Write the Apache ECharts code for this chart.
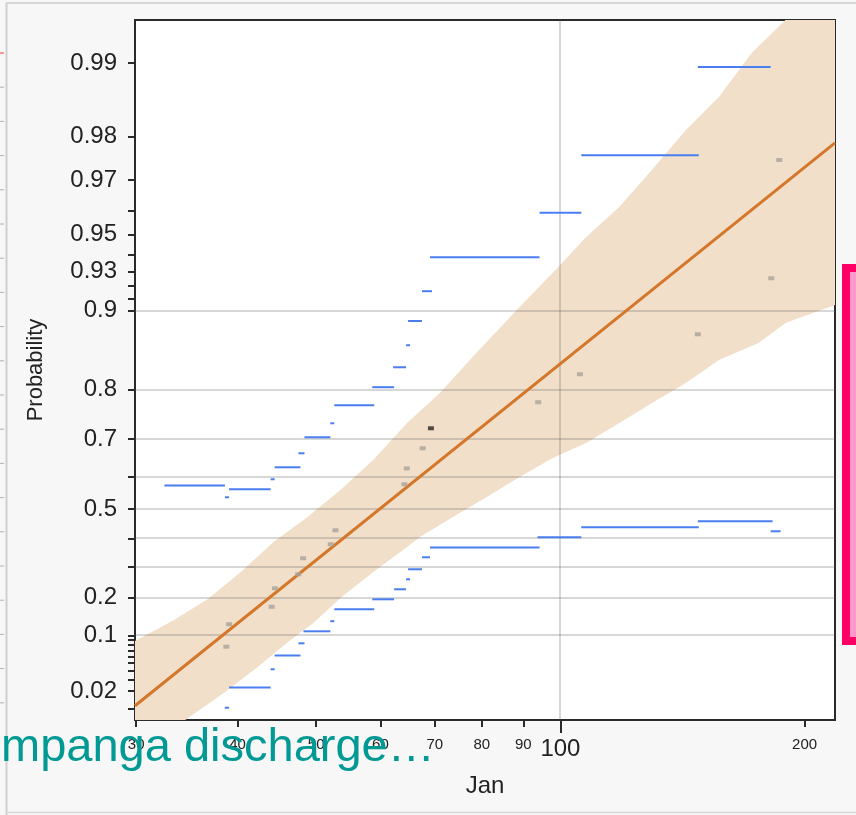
<!DOCTYPE html>
<html><head><meta charset="utf-8">
<script src="https://cdn.jsdelivr.net/npm/echarts@6/dist/echarts.min.js"></script>
<style>html,body{margin:0;padding:0;background:#f7f7f7}#c{width:856px;height:815px}</style>
</head><body><div id="c"></div>
<script>
// ---- axes (x: log scale, y: Gumbel probability scale) ----
const xTickValues = [30, 40, 50, 60, 70, 80, 90, 200];
const xBigTickValues = [100];
const xRange = [29.9, 218];
const yLabelValues = [0.02, 0.1, 0.2, 0.5, 0.7, 0.8, 0.9, 0.93, 0.95, 0.97, 0.98, 0.99];
const yMinorValues = [0.01, 0.03, 0.04, 0.05, 0.06, 0.07, 0.08, 0.09, 0.3, 0.4, 0.6, 0.91, 0.92, 0.94, 0.96];
const yGridValues = [0.1, 0.2, 0.3, 0.4, 0.5, 0.6, 0.7, 0.8, 0.9];
const xGridValues = [100];
const yRange = [0.00585, 0.99335];

// ---- observations ----
const obsX = [38.75, 39.05, 44.06, 44.48, 47.51, 48.18, 52.11, 52.81, 64.23, 64.66, 67.64, 69.25, 93.89, 105.7, 147.7, 181.9, 186.1];
const obsP = [0.0771, 0.126, 0.173, 0.2295, 0.2756, 0.3306, 0.3794, 0.428, 0.578, 0.624, 0.6774, 0.7246, 0.7776, 0.8246, 0.8764, 0.9254, 0.9751];
const obsSelected = [0, 0, 0, 0, 0, 0, 0, 0, 0, 0, 0, 1, 0, 0, 0, 0, 0];

// ---- fitted line ----
const fitX = [29.9, 218];
const fitP = [0.0112, 0.9788];

// ---- confidence band ----
const bandUpperX = [29.9, 33.40, 36.77, 40.37, 44.31, 48.78, 53.56, 58.79, 64.72, 71.04, 77.33, 89.07, 97.81, 107.6, 118.2, 129.7, 142.8, 156.8, 172.1, 189.4, 218];
const bandUpperP = [0.0882, 0.1369, 0.1961, 0.2834, 0.3874, 0.4733, 0.5606, 0.6471, 0.7362, 0.7942, 0.8450, 0.9032, 0.9289, 0.9490, 0.9614, 0.9727, 0.9812, 0.98624, 0.99092, 0.99335, 0.9962];
const bandLowerX = [29.9, 34.75, 38.47, 42.35, 46.49, 49.61, 53.56, 58.79, 64.72, 67.13, 73.70, 81.13, 89.07, 97.81, 107.6, 118.2, 129.7, 142.8, 156.8, 175.5, 189.4, 218];
const bandLowerP = [0.0007, 0.00644, 0.01872, 0.04469, 0.0903, 0.1292, 0.1991, 0.2834, 0.3699, 0.4048, 0.4733, 0.5387, 0.5996, 0.6524, 0.6905, 0.7362, 0.7763, 0.8110, 0.8450, 0.8665, 0.8882, 0.9049];

// ---- step intervals (upper and lower) ----
const upperSegStart = [32.5, 38.6, 39.05, 43.94, 44.44, 47.55, 48.37, 52.05, 52.64, 58.63, 62.2, 64.54, 64.9, 67.52, 69.07, 94.25, 106.1, 147.7];
const upperSegEnd   = [38.6, 39.05, 43.94, 44.44, 47.82, 48.37, 52.05, 52.64, 58.96, 62.38, 64.54, 65.27, 67.52, 69.46, 94.25, 106.1, 148.1, 181.6];
const upperSegP     = [0.5744, 0.5378, 0.5628, 0.5929, 0.6272, 0.6647, 0.7041, 0.7355, 0.7719, 0.8041, 0.8349, 0.8638, 0.8902, 0.9161, 0.9385, 0.9592, 0.9762, 0.98963];
const lowerSegStart = [38.58, 39.05, 43.94, 44.44, 47.55, 48.23, 52.05, 52.64, 58.63, 62.38, 64.54, 64.9, 67.52, 69.07, 93.71, 106.1, 147.7, 181.6];
const lowerSegEnd   = [39.05, 43.94, 44.44, 47.82, 48.37, 52.05, 52.64, 58.96, 62.38, 64.54, 65.27, 67.52, 69.07, 94.25, 106.1, 148.1, 182.6, 186.8];
const lowerSegP     = [0.01031, 0.02291, 0.04174, 0.06163, 0.0836, 0.1092, 0.1338, 0.1658, 0.1951, 0.2263, 0.2589, 0.2926, 0.334, 0.3682, 0.4038, 0.4384, 0.4589, 0.4246];

// ---- transforms ----
const lg = x => Math.log10(x);
const gum = p => -Math.log(-Math.log(p));
const key = v => v.toFixed(6);
const yLabelMap = new Map(yLabelValues.map(p => [key(gum(p)), String(p)]));

const FONT = '"Liberation Sans", Arial, sans-serif';
const AX = '#2a2a2a';

const segData = [];
upperSegP.forEach((p, i) => segData.push([lg(upperSegStart[i]), lg(upperSegEnd[i]), gum(p)]));
lowerSegP.forEach((p, i) => segData.push([lg(lowerSegStart[i]), lg(lowerSegEnd[i]), gum(p)]));

const chart = echarts.init(document.getElementById('c'), null, {renderer: 'canvas'});

const gridBox = {left: 135, right: 21, top: 20, bottom: 95};

const leftTicks = [];
for (let k = 0; k < 20; k++) {
  leftTicks.push({type: 'line', z: 50, silent: true,
    shape: {x1: 0, y1: 53 + 34.2 * k, x2: 4, y2: 53 + 34.2 * k},
    style: {stroke: k === 0 ? '#ff3b3b' : '#b0b0b0', lineWidth: 1}});
}

chart.setOption({
  backgroundColor: '#f7f7f7',
  animation: false,
  grid: [
    Object.assign({show: true, backgroundColor: '#fff', borderColor: AX, borderWidth: 2}, gridBox),
    Object.assign({show: false}, gridBox)
  ],
  xAxis: [
    {type: 'value', gridIndex: 0, min: lg(xRange[0]), max: lg(xRange[1]),
     name: 'Jan', nameLocation: 'middle', nameGap: 54,
     nameTextStyle: {fontSize: 24, color: '#222', fontFamily: FONT},
     axisLine: {show: true, onZero: false, lineStyle: {color: AX, width: 2}},
     axisTick: {show: true, customValues: xTickValues.map(lg), length: 7, lineStyle: {color: AX, width: 2}},
     axisLabel: {customValues: xTickValues.map(lg), formatter: v => String(Math.round(Math.pow(10, v))),
       fontSize: 15, color: '#222', fontFamily: FONT, margin: 17},
     splitLine: {show: false}},
    {type: 'value', gridIndex: 1, min: lg(xRange[0]), max: lg(xRange[1]),
     axisLine: {show: false, onZero: false},
     axisTick: {show: true, customValues: xBigTickValues.map(lg), length: 13, lineStyle: {color: AX, width: 2}},
     axisLabel: {customValues: xBigTickValues.map(lg), formatter: v => String(Math.round(Math.pow(10, v))),
       fontSize: 24, color: '#222', fontFamily: FONT, margin: 17},
     splitLine: {show: false}}
  ],
  yAxis: [
    {type: 'value', gridIndex: 0, min: gum(yRange[0]), max: gum(yRange[1]),
     name: 'Probability', nameLocation: 'middle', nameGap: 88, nameRotate: 90,
     nameTextStyle: {fontSize: 22, color: '#222', fontFamily: FONT},
     axisLine: {show: true, onZero: false, lineStyle: {color: AX, width: 2}},
     axisTick: {show: true, customValues: yLabelValues.concat(yMinorValues).map(gum), length: 7, lineStyle: {color: AX, width: 2}},
     axisLabel: {customValues: yLabelValues.map(gum), formatter: v => yLabelMap.get(key(v)) || '',
       fontSize: 24, color: '#222', fontFamily: FONT, margin: 18},
     splitLine: {show: false}},
    {type: 'value', gridIndex: 1, min: gum(yRange[0]), max: gum(yRange[1]), show: false}
  ],
  series: [
    {type: 'custom', name: 'band', xAxisIndex: 0, yAxisIndex: 0, z: 1, silent: true, clip: true,
     data: [[lg(100), gum(0.5)]],
     renderItem: (params, api) => {
       const pts = [];
       for (let i = 0; i < bandUpperX.length; i++) pts.push(api.coord([lg(bandUpperX[i]), gum(bandUpperP[i])]));
       for (let i = bandLowerX.length - 1; i >= 0; i--) pts.push(api.coord([lg(bandLowerX[i]), gum(bandLowerP[i])]));
       return {type: 'polygon', shape: {points: pts}, style: {fill: '#f2dfca'}};
     }},
    {type: 'custom', name: 'hgrid', z: 2, silent: true,
     data: yGridValues.map(p => [lg(100), gum(p)]),
     renderItem: (params, api) => {
       const cs = params.coordSys;
       const y = Math.round(api.coord([api.value(0), api.value(1)])[1]);
       return {type: 'line', shape: {x1: cs.x, y1: y, x2: cs.x + cs.width, y2: y},
         style: {stroke: 'rgba(100,100,100,0.26)', lineWidth: 2}};
     }},
    {type: 'custom', name: 'vgrid', z: 2, silent: true,
     data: xGridValues.map(x => [lg(x), gum(0.5)]),
     renderItem: (params, api) => {
       const cs = params.coordSys;
       const x = Math.round(api.coord([api.value(0), api.value(1)])[0]);
       return {type: 'line', shape: {x1: x, y1: cs.y, x2: x, y2: cs.y + cs.height},
         style: {stroke: 'rgba(100,100,100,0.26)', lineWidth: 2}};
     }},
    {type: 'custom', name: 'intervals', z: 3, silent: true, clip: true,
     data: segData, encode: {x: [0, 1], y: 2},
     renderItem: (params, api) => {
       const a = api.coord([api.value(0), api.value(2)]);
       const b = api.coord([api.value(1), api.value(2)]);
       return {type: 'line', shape: {x1: a[0], y1: a[1], x2: b[0], y2: b[1]},
         style: {stroke: '#4a7ef0', lineWidth: 2}};
     }},
    {type: 'line', name: 'fit', z: 4, silent: true, showSymbol: false,
     data: fitX.map((x, i) => [lg(x), gum(fitP[i])]),
     lineStyle: {color: '#d4772a', width: 3}},
    {type: 'scatter', name: 'obs', z: 5, silent: true, symbol: 'rect', symbolSize: [6, 4],
     data: obsX.map((x, i) => ({value: [lg(x), gum(obsP[i])],
       itemStyle: {color: obsSelected[i] ? '#2a2420' : '#a9a29a'}}))}
  ],
  graphic: [
    {type: 'line', z: 40, silent: true, shape: {x1: 6.5, y1: 3, x2: 6.5, y2: 815}, style: {stroke: '#cfcfcf', lineWidth: 2}},
    {type: 'line', z: 40, silent: true, shape: {x1: 6, y1: 3, x2: 856, y2: 3}, style: {stroke: '#d6d6d6', lineWidth: 2}},
    {type: 'line', z: 40, silent: true, shape: {x1: 6, y1: 812.5, x2: 856, y2: 812.5}, style: {stroke: '#d6d6d6', lineWidth: 1.5}},
    ...leftTicks,
    {type: 'rect', z: 60, silent: true, shape: {x: 846, y: 268, width: 20, height: 373},
     style: {fill: '#ff99cc', stroke: '#ff0066', lineWidth: 8}},
    {type: 'text', z: 100, silent: true, x: 1, y: 748,
     style: {text: 'mpanga discharge…', font: '47px "Liberation Sans", Arial, sans-serif',
       fill: '#009994', verticalAlign: 'middle', align: 'left'}}
  ]
});
</script></body></html>
